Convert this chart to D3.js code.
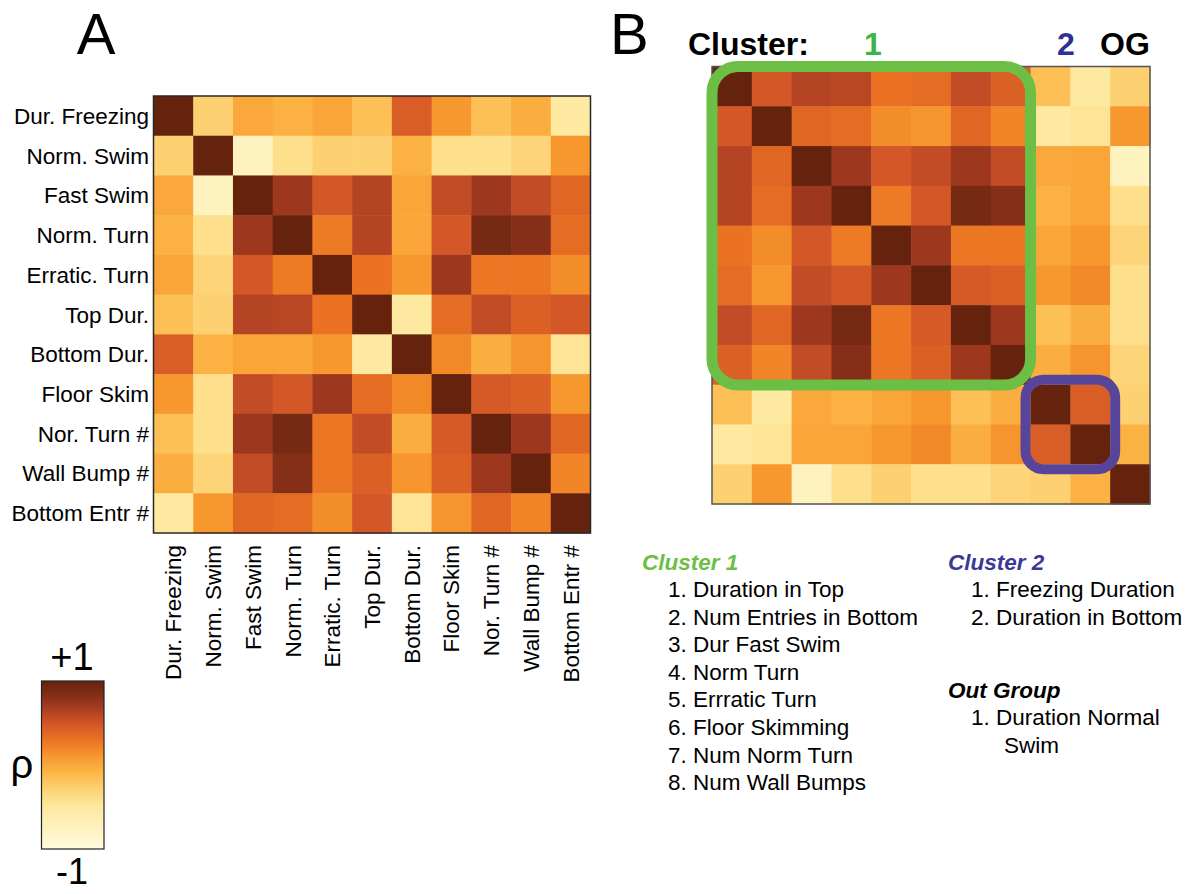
<!DOCTYPE html>
<html>
<head>
<meta charset="utf-8">
<script src="https://cdn.jsdelivr.net/npm/d3@7"></script>
<style>
  body { margin: 0; background: #fff; }
  svg { display: block; font-family: "Liberation Sans", Arial, sans-serif; }
</style>
</head>
<body>
<svg id="chart" width="1204" height="894"></svg>
<script>
// behaviour measures, in the order of panel A
var labels = ["Dur. Freezing", "Norm. Swim", "Fast Swim", "Norm. Turn", "Erratic. Turn",
  "Top Dur.", "Bottom Dur.", "Floor Skim", "Nor. Turn #", "Wall Bump #", "Bottom Entr #"];

// spearman rho
var rho = [
  [ 1.00, -0.28,  0.00, -0.06,  0.02, -0.16,  0.44,  0.10, -0.16, -0.04, -0.50],
  [-0.28,  1.00, -0.75, -0.40, -0.28, -0.28, -0.06, -0.40, -0.40, -0.30,  0.10],
  [ 0.00, -0.75,  1.00,  0.72,  0.48,  0.62,  0.02,  0.56,  0.72,  0.56,  0.38],
  [-0.06, -0.40,  0.72,  1.00,  0.26,  0.62,  0.02,  0.48,  0.90,  0.82,  0.34],
  [ 0.02, -0.30,  0.48,  0.26,  1.00,  0.30,  0.10,  0.72,  0.28,  0.28,  0.16],
  [-0.16, -0.28,  0.62,  0.60,  0.30,  1.00, -0.50,  0.34,  0.56,  0.42,  0.48],
  [ 0.44, -0.06,  0.02,  0.02,  0.10, -0.50,  1.00,  0.18, -0.04,  0.12, -0.45],
  [ 0.10, -0.40,  0.56,  0.48,  0.72,  0.34,  0.18,  1.00,  0.46,  0.42,  0.10],
  [-0.16, -0.40,  0.72,  0.90,  0.28,  0.56, -0.04,  0.46,  1.00,  0.72,  0.38],
  [-0.04, -0.30,  0.56,  0.82,  0.28,  0.42,  0.12,  0.42,  0.72,  1.00,  0.20],
  [-0.50,  0.10,  0.38,  0.34,  0.16,  0.48, -0.45,  0.12,  0.38,  0.20,  1.00]
];

// panel B: clustered order (indices into labels)
var clusterOrder = [5, 10, 2, 3, 4, 7, 8, 9, 0, 6, 1];
var cluster1 = ["Duration in Top", "Num Entries in Bottom", "Dur Fast Swim", "Norm Turn",
  "Errratic Turn", "Floor Skimming", "Num Norm Turn", "Num Wall Bumps"];
var cluster2 = ["Freezing Duration", "Duration in Bottom"];
var outGroup = ["Duration Normal", "Swim"];

var color = d3.scaleLinear()
  .domain([-1, -0.5, -0.3, -0.1, 0.1, 0.3, 0.5, 0.7, 0.85, 1])
  .range(["#fffbdc", "#fde9a0", "#fdd477", "#fcb848", "#f7982e", "#ea7222",
          "#d05428", "#a23a20", "#7e2c16", "#65230d"]);

var svg = d3.select("#chart");
var n = labels.length;

// ---------- panel A ----------
var xA = d3.scaleBand().domain(d3.range(n)).range([153.5, 590.5]);
var yA = d3.scaleBand().domain(d3.range(n)).range([96, 533]);

var cellsA = [];
rho.forEach(function(row, i) { row.forEach(function(v, j) { cellsA.push({i: i, j: j, v: v}); }); });

var gA = svg.append("g");
gA.selectAll("rect.cell").data(cellsA).enter().append("rect")
  .attr("x", d => xA(d.j)).attr("y", d => yA(d.i))
  .attr("width", xA.bandwidth() + 0.5).attr("height", yA.bandwidth() + 0.5)
  .attr("fill", d => color(d.v));
gA.append("rect").attr("x", 153.5).attr("y", 96).attr("width", 437).attr("height", 437)
  .attr("fill", "none").attr("stroke", "#2a2a2a").attr("stroke-width", 1.5);

gA.selectAll("text.row").data(labels).enter().append("text")
  .attr("x", 149).attr("y", (d, i) => yA(i) + yA.bandwidth() / 2 + 8)
  .attr("text-anchor", "end").attr("font-size", 22.5).text(d => d);

gA.selectAll("text.col").data(labels).enter().append("text")
  .attr("transform", (d, i) => "translate(" + (xA(i) + xA.bandwidth() / 2 + 8) + ",545) rotate(-90)")
  .attr("text-anchor", "end").attr("font-size", 22.5).text(d => d);

svg.append("text").attr("x", 96).attr("y", 54).attr("text-anchor", "middle")
  .attr("font-size", 58).text("A");

// colour bar
var defs = svg.append("defs");
var grad = defs.append("linearGradient").attr("id", "rhoGrad")
  .attr("x1", 0).attr("y1", 1).attr("x2", 0).attr("y2", 0);
grad.selectAll("stop").data(d3.range(0, 1.0001, 0.05)).enter().append("stop")
  .attr("offset", d => d).attr("stop-color", d => color(-1 + 2 * d));
svg.append("rect").attr("x", 41.5).attr("y", 681).attr("width", 62.5).attr("height", 168)
  .attr("fill", "url(#rhoGrad)").attr("stroke", "#222").attr("stroke-width", 1.2);
svg.append("text").attr("x", 72).attr("y", 670).attr("text-anchor", "middle")
  .attr("font-size", 38).text("+1");
svg.append("text").attr("x", 72).attr("y", 884).attr("text-anchor", "middle")
  .attr("font-size", 36).text("-1");
svg.append("text").attr("x", 22).attr("y", 778).attr("text-anchor", "middle")
  .attr("font-size", 40).text("ρ");

// ---------- panel B ----------
var xB = d3.scaleBand().domain(d3.range(n)).range([712, 1150]);
var yB = d3.scaleBand().domain(d3.range(n)).range([66.5, 504]);
var cellsB = [];
clusterOrder.forEach(function(a, i) {
  clusterOrder.forEach(function(b, j) { cellsB.push({i: i, j: j, v: rho[a][b]}); });
});
var gB = svg.append("g");
gB.selectAll("rect.cell").data(cellsB).enter().append("rect")
  .attr("x", d => xB(d.j)).attr("y", d => yB(d.i))
  .attr("width", xB.bandwidth() + 0.5).attr("height", yB.bandwidth() + 0.5)
  .attr("fill", d => color(d.v));
gB.append("rect").attr("x", 712).attr("y", 66.5).attr("width", 438).attr("height", 437.5)
  .attr("fill", "none").attr("stroke", "#555").attr("stroke-width", 1.5);

var bw = xB.bandwidth();
gB.append("rect").attr("x", xB(0)).attr("y", yB(0))
  .attr("width", 8 * bw).attr("height", 8 * bw).attr("rx", 26)
  .attr("fill", "none").attr("stroke", "#6dbe45").attr("stroke-width", 11);
gB.append("rect").attr("x", xB(8) - 5).attr("y", yB(8) - 5)
  .attr("width", 2 * bw + 10).attr("height", 2 * bw + 10).attr("rx", 18)
  .attr("fill", "none").attr("stroke", "#56459b").attr("stroke-width", 10);

svg.append("text").attr("x", 610).attr("y", 54).attr("font-size", 58).text("B");
svg.append("text").attr("x", 688).attr("y", 55).attr("font-size", 32)
  .attr("font-weight", "bold").text("Cluster:");
svg.append("text").attr("x", 873).attr("y", 55).attr("text-anchor", "middle").attr("font-size", 32)
  .attr("font-weight", "bold").attr("fill", "#3bb54a").text("1");
svg.append("text").attr("x", 1066).attr("y", 55).attr("text-anchor", "middle").attr("font-size", 32)
  .attr("font-weight", "bold").attr("fill", "#2e3192").text("2");
svg.append("text").attr("x", 1125).attr("y", 55).attr("text-anchor", "middle").attr("font-size", 32)
  .attr("font-weight", "bold").text("OG");

// ---------- cluster key ----------
var key = svg.append("g").attr("font-size", 22.5);
key.append("text").attr("x", 642).attr("y", 570).attr("font-weight", "bold")
  .attr("font-style", "italic").attr("fill", "#6dbe45").text("Cluster 1");
key.selectAll("text.c1").data(cluster1).enter().append("text")
  .attr("x", 668).attr("y", (d, i) => 597 + i * 27.6).text((d, i) => (i + 1) + ". " + d);

key.append("text").attr("x", 948).attr("y", 570).attr("font-weight", "bold")
  .attr("font-style", "italic").attr("fill", "#3a3a94").text("Cluster 2");
key.selectAll("text.c2").data(cluster2).enter().append("text")
  .attr("x", 971).attr("y", (d, i) => 597 + i * 27.6).text((d, i) => (i + 1) + ". " + d);

key.append("text").attr("x", 948).attr("y", 698).attr("font-weight", "bold")
  .attr("font-style", "italic").text("Out Group");
key.append("text").attr("x", 971).attr("y", 725).text("1. " + outGroup[0]);
key.append("text").attr("x", 1004).attr("y", 752.5).text(outGroup[1]);
</script>
</body>
</html>
